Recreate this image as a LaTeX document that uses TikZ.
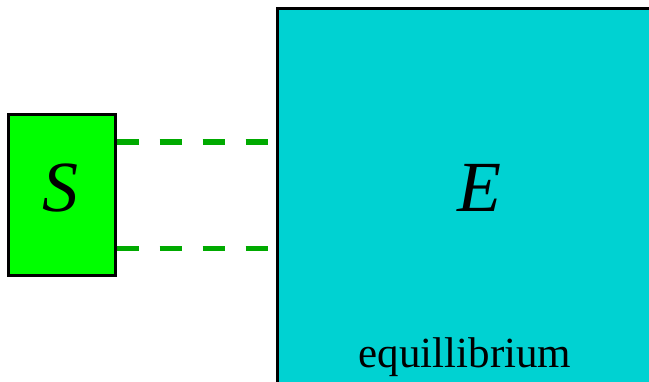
\documentclass[tikz,border=0pt]{standalone}
\usepackage{fontspec}
\setmainfont{Liberation Serif}
\definecolor{sgreen}{RGB}{0,255,0}
\definecolor{ecyan}{RGB}{0,210,210}
\definecolor{dgreen}{RGB}{0,170,0}
\tikzset{
  boxstyle/.style={draw=black, line width=3pt, inner sep=0pt, outer sep=0pt},
  link/.style={dgreen, line width=5.5pt, dash pattern=on 22pt off 21pt},
  bigletter/.style={font=\fontsize{72}{72}\selectfont\itshape, inner sep=0pt, anchor=base},
}
\begin{document}
\begin{tikzpicture}[x=1pt,y=-1pt]
\useasboundingbox (0,0) rectangle (649,382);
\clip (0,0) rectangle (649,382);
\node[boxstyle, fill=sgreen, minimum width=107pt, minimum height=161pt] (S) at (61.5,195.5) {};
\node[boxstyle, fill=ecyan, minimum width=403pt, minimum height=411pt] (E) at (478.5,214.5) {};
\node[bigletter] (Slab) at (60,212) {S};
\node[bigletter] (Elab) at (479,212) {E};
\node[font=\fontsize{43}{43}\selectfont, inner sep=0pt, anchor=base] (eq) at (465,368) {equillibrium};
\coordinate (a1) at (S.east |- 0,142);
\coordinate (b1) at (E.west |- 0,142);
\coordinate (a2) at (S.east |- 0,248.5);
\coordinate (b2) at (E.west |- 0,248.5);
\draw[link] ([xshift=1.5pt]a1) -- ([xshift=-1.5pt]b1);
\draw[link] ([xshift=1.5pt]a2) -- ([xshift=-1.5pt]b2);
\end{tikzpicture}
\end{document}
